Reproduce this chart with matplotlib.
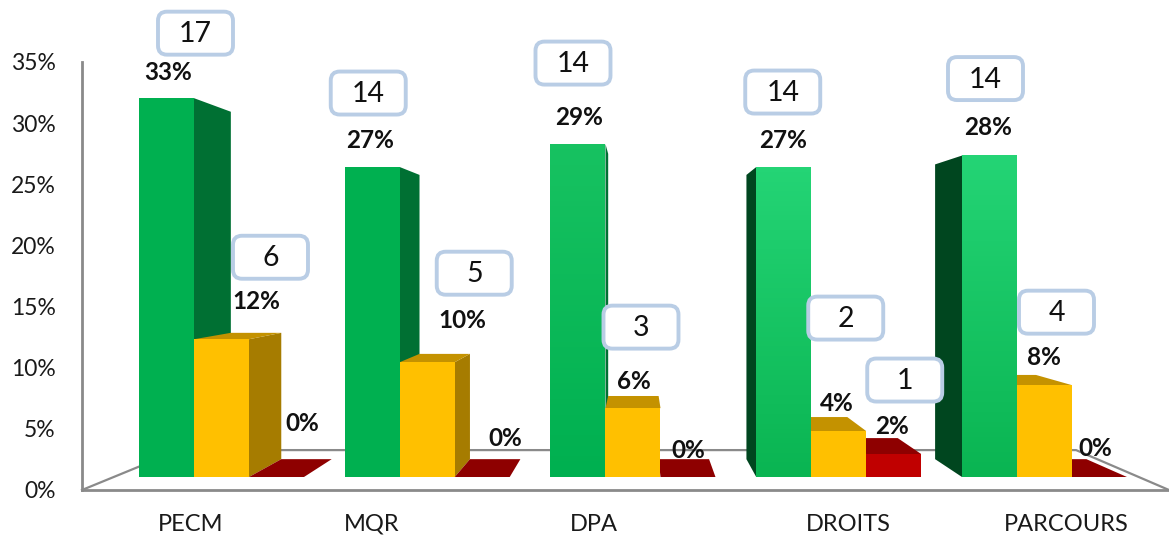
import matplotlib.pyplot as plt
import numpy as np
from matplotlib.patches import Polygon, FancyBboxPatch
from matplotlib.transforms import ScaledTranslation
from matplotlib.colors import LinearSegmentedColormap

categories = ['PECM', 'MQR', 'DPA', 'DROITS', 'PARCOURS']
green_pct = [33, 27, 29, 27, 28]
yellow_pct = [12, 10, 6, 4, 8]
red_pct = [0, 0, 0, 2, 0]
green_n = [17, 14, 14, 14, 14]
yellow_n = [6, 5, 3, 2, 4]
red_n = [0, 0, 0, 1, 0]
yticks = [0, 5, 10, 15, 20, 25, 30, 35]

plt.rcParams['font.family'] = ['Lato', 'DejaVu Sans']

W, H = 1169, 535
fig = plt.figure(figsize=(W / 100, H / 100), dpi=100)
rect = [82 / W, 45 / H, 1087 / W, 428 / H]
axt = fig.add_axes(rect)
ax = fig.add_axes(rect)
ax.patch.set_alpha(0)

grey = '#8A8A8A'
# axis with the tick labels
axt.set_xlim(0, 1)
axt.set_ylim(0, 35)
axt.set_yticks(yticks)
axt.set_yticklabels([f'{t}%' for t in yticks])
axt.set_xticks([])
axt.tick_params(axis='y', length=0, pad=19, labelsize=16.5, colors='#1A1A1A')
for s in ['top', 'right']:
    axt.spines[s].set_visible(False)
for s in ['left', 'bottom']:
    axt.spines[s].set_color(grey)
    axt.spines[s].set_linewidth(2)

# axis with the bars (slightly different scale: perspective)
xl = (-0.5443, 4.7388)
yl = (-1.132, 36.15)
ax.set_xlim(*xl)
ax.set_ylim(*yl)
for s in ax.spines.values():
    s.set_visible(False)
ax.set_yticks([])
lab_shift = [-0.015, -0.135, -0.055, 0.18, 0.24]
ax.set_xticks([i + d for i, d in enumerate(lab_shift)])
ax.set_xticklabels(categories)
ax.tick_params(axis='x', length=0, pad=17, labelsize=17, colors='#1A1A1A')

vx, vy, sc = 2.158, 18.73, 0.917  # vanishing point, depth factor


def back(x, y, f=sc):
    return vx + f * (x - vx), vy + f * (y - vy)


# floor
f = 0.825
fl = [(xl[0], yl[0]), back(xl[0], yl[0], f), back(xl[1], yl[0], f), (xl[1], yl[0])]
ax.plot([p[0] for p in fl], [p[1] for p in fl], color=grey, lw=1.6, zorder=1, clip_on=False)

w = 0.2673
series = [
    (green_pct, green_n, -w, 'green'),
    (yellow_pct, yellow_n, 0.0, 'yellow'),
    (red_pct, red_n, w, 'red'),
]
side_r = {'green': '#007033', 'yellow': '#A67C00', 'red': '#7A0000'}
side_l = {'green': '#00461F', 'yellow': '#8A6700', 'red': '#700000'}
top_c = {'green': '#00803A', 'yellow': '#C49200', 'red': '#8E0000'}
front_c = {'yellow': '#FFC000', 'red': '#C00000'}
green_top = ['#00B050', '#00B050', '#17C261', '#24D475', '#24D475']
green_bot = ['#00B050', '#00B050', '#00B050', '#0AB552', '#0AB552']

bars = []
for vals, ns, off, kind in series:
    for i, v in enumerate(vals):
        bars.append((i, i + off, v, ns[i], kind))
bars.sort(key=lambda b: -abs(b[1] + w / 2 - vx))

for z, (i, x0, h, n, kind) in enumerate(bars):
    zb = 2 + z * 0.01
    x1 = x0 + w
    if x1 < vx:
        pts = [(x1, 0), (x1, h), back(x1, h), back(x1, 0)]
        ax.add_patch(Polygon(pts, closed=True, fc=side_r[kind], ec='none', zorder=zb))
    elif x0 > vx:
        pts = [(x0, 0), (x0, h), back(x0, h), back(x0, 0)]
        ax.add_patch(Polygon(pts, closed=True, fc=side_l[kind], ec='none', zorder=zb))
    if h < vy:
        pts = [(x0, h), (x1, h), back(x1, h), back(x0, h)]
        ax.add_patch(Polygon(pts, closed=True, fc=top_c[kind], ec='none', zorder=zb + 0.001))
    if kind == 'green':
        ax.bar(x0, h, width=w, align='edge', color=green_bot[i], zorder=zb + 0.002)
        cm = LinearSegmentedColormap.from_list('g', [green_bot[i], green_top[i]])
        ax.imshow(np.linspace(0, 1, 64).reshape(-1, 1), cmap=cm, origin='lower',
                  extent=(x0, x1, 0, h), aspect='auto', zorder=zb + 0.003)
    elif h > 0:
        ax.bar(x0, h, width=w, align='edge', color=front_c[kind], zorder=zb + 0.002)

ax.set_xlim(*xl)
ax.set_ylim(*yl)

# label offsets in pixels from the top centre of each bar front
pct_off = {
    'green': [(2, 26), (-2, 27), (1, 27), (-1, 27), (-1, 28)],
    'yellow': [(35, 38), (35, 42), (1, 27), (-2, 28), (-1, 28)],
    'red': [(26, 54), (23, 39), (0, 27), (-2, 28), (-4, 29)],
}
box_off = {
    'green': [(29, 65), (-4, 74), (-5, 81), (-1, 75), (-4, 77)],
    'yellow': [(49, 82), (47, 89), (8, 81), (7, 113), (12, 73)],
    'red': [(0, 0), (0, 0), (0, 0), (11, 74), (0, 0)],
}

for i, x0, h, n, kind in bars:
    xc = x0 + w / 2
    dx, dy = pct_off[kind][i]
    ax.annotate(f'{h}%', xy=(xc, h), xytext=(dx, dy), textcoords='offset pixels',
                ha='center', va='center', fontsize=17.5, fontweight='bold',
                color='#111111', zorder=30)
    if n > 0:
        bx, by = box_off[kind][i]
        tr = fig.dpi_scale_trans + ScaledTranslation(xc, h, ax.transData)
        box = FancyBboxPatch(((bx - 37.5) / 100, (by - 21.5) / 100), 0.75, 0.43,
                             boxstyle='round,pad=0,rounding_size=0.09',
                             fc='white', ec='#B9CDE5', lw=2.8, transform=tr,
                             zorder=25, clip_on=False)
        ax.add_artist(box)
        ax.annotate(str(n), xy=(xc, h), xytext=(bx, by - 1), textcoords='offset pixels',
                    ha='center', va='center', fontsize=20.5, color='#111111', zorder=31)

fig.savefig('out.png', dpi=100)
